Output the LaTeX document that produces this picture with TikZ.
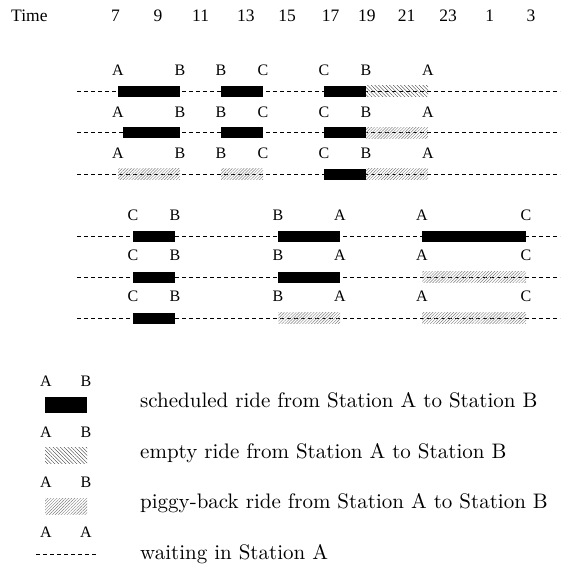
\documentclass[tikz,border=0pt]{standalone}
\usepackage{fontspec}
\newfontfamily\tms{Liberation Serif}
\newfontfamily\lmfont{lmroman10-regular.otf}
\usetikzlibrary{patterns.meta}
\begin{document}
\begin{tikzpicture}[x=1pt,y=-1pt,
  lbl/.style={font=\tms\fontsize{16}{16}\selectfont, inner sep=0pt},
  klbl/.style={font=\tms\fontsize{16}{16}\selectfont, inner sep=0pt},
  hdr/.style={font=\tms\fontsize{17.5}{18}\selectfont, inner sep=0pt},
  legtxt/.style={font=\lmfont\fontsize{21}{21}\selectfont, inner sep=0pt, anchor=base west},
  waitline/.style={dash pattern=on 4pt off 3pt, line width=0.75pt},
  sched/.style={fill=black, draw=none},
  emptyride/.style={pattern={Lines[angle=-45,distance=2.6pt,line width=0.35pt]}, pattern color=black!80, draw=none},
  piggy/.style={pattern={Lines[angle=45,distance=2.1pt,line width=0.45pt]}, pattern color=gray, draw=none}]
\useasboundingbox (0,0) rectangle (566,567);

% header
\node[hdr] (time) at (29.4,16) {Time};
\foreach \x/\t [count=\i] in {115.6/7,158/9,200.6/11,245.8/13,287/15,330.7/17,366.8/19,406.6/21,448/23,489.7/1,531/3}
  \node[hdr] (h\i) at (\x,16) {\t};

% ---------- group 1 ----------
\foreach \ly/\ry/\r in {70/91.5/1,112/132.7/2,153/174/3}{
  \coordinate (g1s\r) at (77,\ry);
  \coordinate (g1e\r) at (560,\ry);
  \draw[waitline] (g1s\r) -- (g1e\r);
  \foreach \x/\t [count=\i] in {118/A,180/B,221/B,263/C,324/C,366/B,428/A}
    \node[lbl] (g1r\r l\i) at (\x,\ly) {\t};
}
% row 1
\fill[sched] (118,86) rectangle (180,97);
\fill[sched] (221,86) rectangle (263,97);
\fill[sched] (324,86) rectangle (366,97);
\fill[emptyride] (366,86) rectangle (428,97);
% row 2
\fill[sched] (123,127.2) rectangle (180,138.2);
\fill[sched] (221,127.2) rectangle (263,138.2);
\fill[sched] (324,127.2) rectangle (366,138.2);
\fill[piggy] (366,127.2) rectangle (428,138.2);
% row 3
\fill[piggy] (118,168.5) rectangle (180,179.5);
\fill[piggy] (221,168.5) rectangle (263,179.5);
\fill[sched] (324,168.5) rectangle (366,179.5);
\fill[piggy] (366,168.5) rectangle (428,179.5);

% ---------- group 2 ----------
\foreach \ly/\ry/\r in {215/236/1,255/277/2,296/318/3}{
  \coordinate (g2s\r) at (77,\ry);
  \coordinate (g2e\r) at (560,\ry);
  \draw[waitline] (g2s\r) -- (g2e\r);
  \foreach \x/\t [count=\i] in {133/C,175/B,278/B,340/A,422/A,526/C}
    \node[lbl] (g2r\r l\i) at (\x,\ly) {\t};
}
% row 1
\fill[sched] (133,230.5) rectangle (175,241.5);
\fill[sched] (278,230.5) rectangle (340,241.5);
\fill[sched] (422,230.5) rectangle (526,241.5);
% row 2
\fill[sched] (133,271.5) rectangle (175,282.5);
\fill[sched] (278,271.5) rectangle (340,282.5);
\fill[piggy] (422,271.5) rectangle (526,282.5);
% row 3
\fill[sched] (133,312.5) rectangle (175,323.5);
\fill[piggy] (278,312.5) rectangle (340,323.5);
\fill[piggy] (422,312.5) rectangle (526,323.5);

% ---------- legend ----------
\node[klbl] (k1a) at (46,381) {A}; \node[klbl] (k1b) at (86,381) {B};
\fill[sched] (45,397) rectangle (87,412.5);
\node[legtxt] (t1) at (140,407) {scheduled ride from Station A to Station B};

\node[klbl] (k2a) at (46,432) {A}; \node[klbl] (k2b) at (86,432) {B};
\fill[emptyride] (45,447.5) rectangle (87,463.5);
\node[legtxt] (t2) at (140,458) {empty ride from Station A to Station B};

\node[klbl] (k3a) at (46,482.5) {A}; \node[klbl] (k3b) at (86,482.5) {B};
\fill[piggy] (45,498) rectangle (87,514);
\node[legtxt] (t3) at (140,508.5) {piggy-back ride from Station A to Station B};

\node[klbl] (k4a) at (46,532) {A}; \node[klbl] (k4b) at (86,532) {A};
\coordinate (w1) at (36,554);
\coordinate (w2) at (98,554);
\draw[waitline] (w1) -- (w2);
\node[legtxt] (t4) at (140,559) {waiting in Station A};
\end{tikzpicture}
\end{document}
